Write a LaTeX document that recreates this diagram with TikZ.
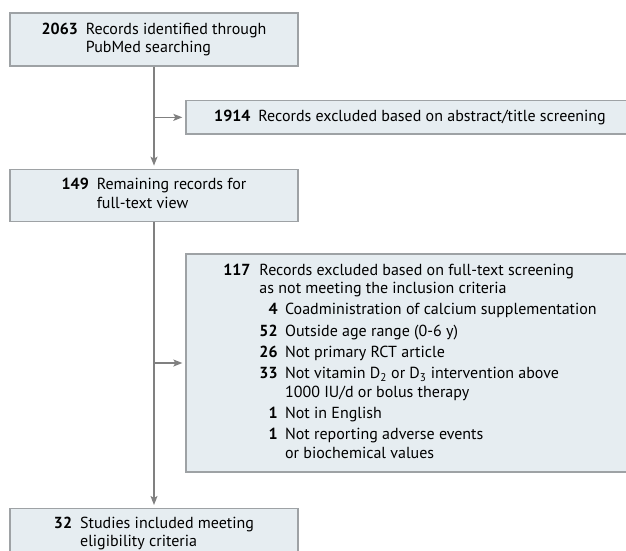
\documentclass[tikz,border=0pt]{standalone}
\usepackage{fontspec}
\setmainfont{PT Sans}
\usepackage{xcolor}
\usepackage{tikz}
\usetikzlibrary{arrows.meta,positioning,calc}
\definecolor{FLOWfill}{RGB}{230,237,241}
\definecolor{FLOWline}{RGB}{158,162,165}
\definecolor{FLOWarrow}{RGB}{128,128,128}
\tikzstyle{fbox}  = [rectangle, draw=FLOWline, fill=FLOWfill, line width=1.3pt,
                     inner sep=0pt, font=\fontsize{16}{18.3}\selectfont]
\tikzstyle{Bmain} = [fbox, minimum width=288pt]
\tikzstyle{Bexcl} = [fbox, minimum width=448pt]

\begin{document}
\begin{tikzpicture}[x=1pt, y=1pt, >={Stealth[length=9pt,width=7pt,inset=2pt]},
                    line width=1.3pt]
  \useasboundingbox (0,0) rectangle (626,-550);
  \clip (0,0) rectangle (626,-550);
  \node[Bmain, minimum height=53pt] (found) at (154,-39.5)
    {\begin{tabular}{@{}r@{\hspace{8pt}}l@{}}
       \textbf{2063} & Records identified through\\
                     & PubMed searching
     \end{tabular}};
  \node[Bmain, minimum height=52pt, below=102pt of found] (remain)
    {\begin{tabular}{@{}r@{\hspace{8pt}}l@{}}
       \textbf{149} & Remaining records for\\
                    & full-text view
     \end{tabular}};
  \node[Bmain, minimum height=50pt, below=286pt of remain] (incl)
    {\begin{tabular}{@{}r@{\hspace{8pt}}l@{}}
       \textbf{32} & Studies included meeting\\
                   & eligibility criteria
     \end{tabular}};
  \node[Bexcl, minimum height=33.5pt] (abst) at (410,-117.35)
    {\begin{tabular}{@{}r@{\hspace{8pt}}l@{}}
       \textbf{1914} & Records excluded based on abstract/title screening
     \end{tabular}};
  \node[Bexcl, minimum height=218pt] (fulltext) at (410,-363)
    {\begin{tabular}{@{}r@{\hspace{9pt}}r@{\hspace{7.5pt}}l@{}}
       \textbf{117} & \multicolumn{2}{@{}l@{}}{Records excluded based on full-text screening}\\
                    & \multicolumn{2}{@{}l@{}}{as not meeting the inclusion criteria}\\[3pt]
       & \textbf{4}  & Coadministration of calcium supplementation\\[3pt]
       & \textbf{52} & Outside age range (0-6 y)\\[3pt]
       & \textbf{26} & Not primary RCT article\\[3pt]
       & \textbf{33} & Not vitamin D\textsubscript{2} or D\textsubscript{3} intervention above\\
       &             & 1000 IU/d or bolus therapy\\[3pt]
       & \textbf{1}  & Not in English\\[3pt]
       & \textbf{1}  & Not reporting adverse events\\
       &             & or biochemical values
     \end{tabular}};

  \draw[->, FLOWarrow, shorten >=3pt] (found) -- (remain);
  \draw[->, FLOWarrow, shorten >=3pt] (found.south |- abst.west) -- (abst.west);
  \draw[->, FLOWarrow, shorten >=3pt] (remain) -- (incl);
  \draw[->, FLOWarrow, shorten >=3pt] (remain.south |- fulltext.west) -- (fulltext.west);
\end{tikzpicture}
\end{document}
